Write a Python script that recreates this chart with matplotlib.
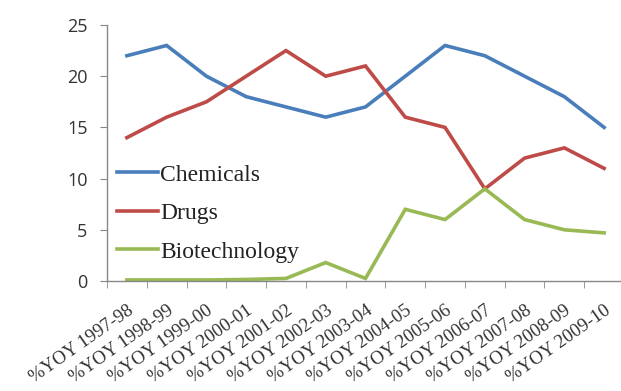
import matplotlib
matplotlib.use("Agg")
import matplotlib.pyplot as plt
import numpy as np

periods = ["1997-98", "1998-99", "1999-00", "2000-01", "2001-02", "2002-03",
           "2003-04", "2004-05", "2005-06", "2006-07", "2007-08", "2008-09", "2009-10"]
tick_labels = ["%YOY " + p for p in periods]

chemicals = [22, 23, 20, 18, 17, 16, 17, 20, 23, 22, 20, 18, 15]
drugs = [14, 16, 17.5, 20, 22.5, 20, 21, 16, 15, 9, 12, 13, 11]
biotech = [0.1, 0.1, 0.1, 0.15, 0.25, 1.8, 0.25, 7, 6, 9, 6, 5, 4.7]

series = [("Chemicals", chemicals, "#4A7EBB"),
          ("Drugs", drugs, "#BE4B48"),
          ("Biotechnology", biotech, "#98B954")]

W, H = 621, 391
fig = plt.figure(figsize=(W / 100, H / 100), dpi=100)
fig.patch.set_facecolor("white")
left, right, top, bottom = 107, 624, 25, 281
ax = fig.add_axes([left / W, 1 - bottom / H, (right - left) / W, (bottom - top) / H])

x = np.arange(len(periods))
for name, vals, col in series:
    ax.plot(x, vals, color=col, lw=2.6, label=name, solid_joinstyle="miter")

ax.set_xlim(-0.5, len(periods) - 0.5)
ax.set_ylim(0, 25)
ax.set_yticks(range(0, 26, 5))

axis_col = "#888888"
for s in ("top", "right"):
    ax.spines[s].set_visible(False)
for s in ("left", "bottom"):
    ax.spines[s].set_color(axis_col)
    ax.spines[s].set_linewidth(1.0)

ax.set_xticks(x)
ax.set_xticklabels(tick_labels, rotation=35, ha="right", va="top",
                   rotation_mode="anchor", fontfamily="Liberation Serif",
                   fontsize=13.5, color="#333333")
ax.set_xticks(np.arange(-0.5, len(periods), 1), minor=True)
ax.tick_params(axis="x", which="major", length=0, pad=15)
ax.tick_params(axis="x", which="minor", length=5, color=axis_col, direction="out")
ax.tick_params(axis="y", length=5, color=axis_col, direction="out", pad=9,
               labelsize=13, labelcolor="#333333")
for lab in ax.get_yticklabels():
    lab.set_fontfamily("Open Sans")

leg = ax.legend(loc="upper left", bbox_to_anchor=(10 / (right - left), 1 - (164 - top) / (bottom - top)),
                frameon=False, borderpad=0, borderaxespad=0,
                prop={"family": "Liberation Serif", "size": 17},
                handlelength=1.75, handletextpad=0.08, labelspacing=0.72)
for t in leg.get_texts():
    t.set_color("#222222")

fig.savefig("out.png", dpi=100, facecolor="white")
